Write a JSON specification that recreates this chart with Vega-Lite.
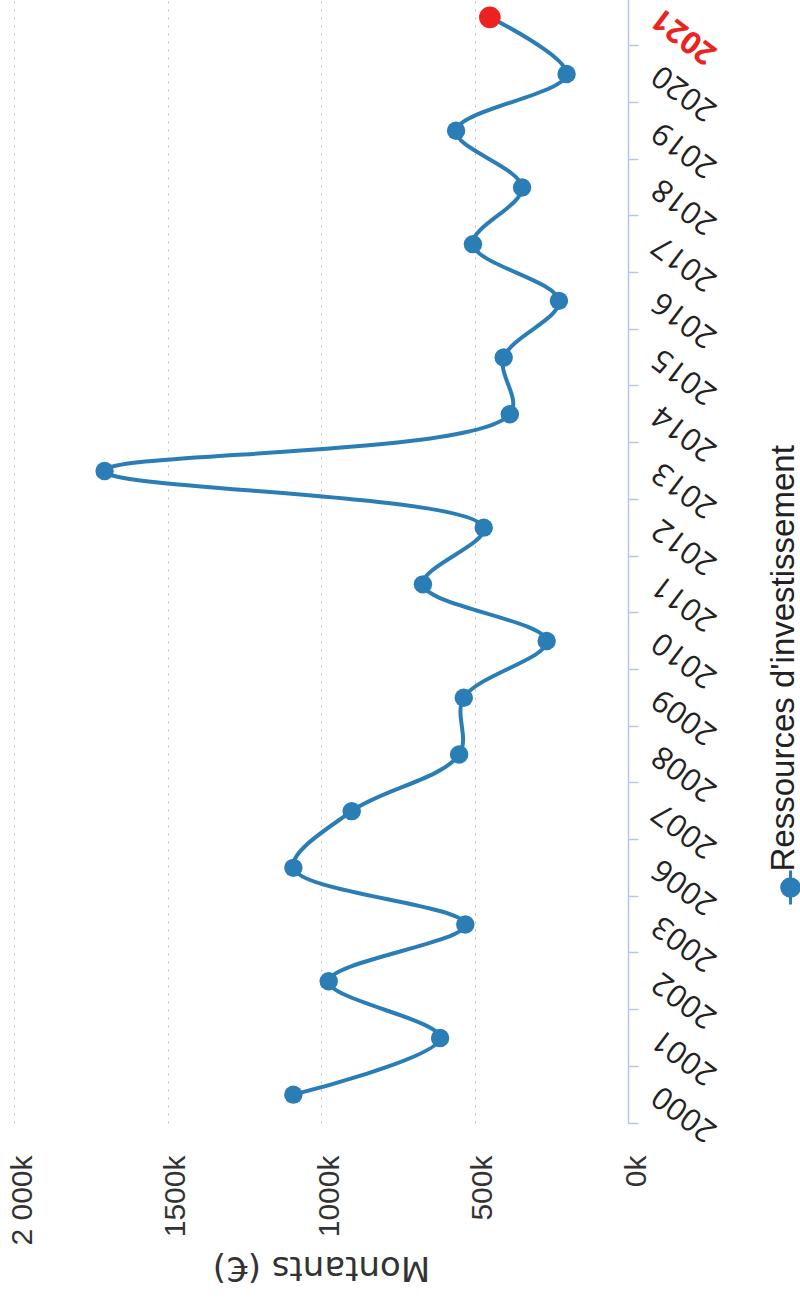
{
  "$schema": "https://vega.github.io/schema/vega-lite/v6.json",
  "width": 614,
  "height": 1134,
  "autosize": {"type": "none"},
  "padding": {"left": 14, "top": -11, "right": 172, "bottom": 180},
  "background": "white",
  "config": {"view": {"stroke": null}, "font": "Liberation Sans"},
  "data": {
    "values": [
      {"year": 2000, "value": 1090000, "serie": "Ressources d'investissement"},
      {"year": 2001, "value": 612000, "serie": "Ressources d'investissement"},
      {"year": 2002, "value": 975000, "serie": "Ressources d'investissement"},
      {"year": 2003, "value": 530000, "serie": "Ressources d'investissement"},
      {"year": 2006, "value": 1090000, "serie": "Ressources d'investissement"},
      {"year": 2007, "value": 900000, "serie": "Ressources d'investissement"},
      {"year": 2008, "value": 550000, "serie": "Ressources d'investissement"},
      {"year": 2009, "value": 535000, "serie": "Ressources d'investissement"},
      {"year": 2010, "value": 265000, "serie": "Ressources d'investissement"},
      {"year": 2011, "value": 668000, "serie": "Ressources d'investissement"},
      {"year": 2012, "value": 470000, "serie": "Ressources d'investissement"},
      {"year": 2013, "value": 1705000, "serie": "Ressources d'investissement"},
      {"year": 2014, "value": 385000, "serie": "Ressources d'investissement"},
      {"year": 2015, "value": 405000, "serie": "Ressources d'investissement"},
      {"year": 2016, "value": 225000, "serie": "Ressources d'investissement"},
      {"year": 2017, "value": 505000, "serie": "Ressources d'investissement"},
      {"year": 2018, "value": 345000, "serie": "Ressources d'investissement"},
      {"year": 2019, "value": 560000, "serie": "Ressources d'investissement"},
      {"year": 2020, "value": 200000, "serie": "Ressources d'investissement"},
      {"year": 2021, "value": 450000, "serie": "Ressources d'investissement"}
    ]
  },
  "encoding": {
    "y": {
      "field": "year",
      "type": "ordinal",
      "sort": "descending",
      "scale": {"type": "band", "paddingInner": 0, "paddingOuter": 0},
      "axis": {
        "orient": "right",
        "title": null,
        "grid": false,
        "bandPosition": 1,
        "domainColor": "#b6c9e1",
        "domainWidth": 1.5,
        "tickColor": "#b6c9e1",
        "tickWidth": 1.5,
        "tickSize": 10,
        "labelOffset": -3,
        "labelAngle": 217,
        "labelAlign": "right",
        "labelBaseline": "middle",
        "labelPadding": 18,
        "labelFont": "Open Sans",
        "labelFontSize": 31,
        "labelColor": {"condition": {"test": "datum.label == '2021'", "value": "#e8261f"}, "value": "#222222"},
        "labelFontWeight": {"condition": {"test": "datum.label == '2021'", "value": "bold"}, "value": "normal"}
      }
    },
    "x": {
      "field": "value",
      "type": "quantitative",
      "scale": {"domain": [0, 2000000], "reverse": true, "nice": false},
      "axis": {
        "orient": "bottom",
        "values": [0, 500000, 1000000, 1500000, 2000000],
        "labelExpr": "datum.value == 2000000 ? '2 000k' : format(datum.value / 1000, 'd') + 'k'",
        "domain": false,
        "ticks": false,
        "grid": true,
        "gridColor": "#bdbdbd",
        "gridDash": [2, 6],
        "gridWidth": 1,
        "labelAngle": 270,
        "labelAlign": "right",
        "labelBaseline": "middle",
        "labelOffset": 8,
        "labelPadding": 32,
        "labelFontSize": 30,
        "labelColor": "#333333",
        "title": "Montants (€)",
        "titleAngle": 180,
        "titleBaseline": "bottom",
        "titlePadding": 4,
        "titleFont": "DejaVu Sans",
        "titleFontSize": 34,
        "titleFontWeight": "normal",
        "titleColor": "#333333"
      }
    }
  },
  "layer": [
    {
      "mark": {"type": "line", "interpolate": "catmull-rom", "color": "#2a7db5", "strokeWidth": 4},
      "encoding": {"order": {"field": "year", "type": "quantitative"}}
    },
    {
      "mark": {"type": "point", "filled": true, "opacity": 1},
      "encoding": {
        "size": {"condition": {"test": "datum.year == 2021", "value": 470}, "value": 340},
        "color": {
          "condition": {"test": "datum.year == 2021", "value": "#ec2220"},
          "field": "serie",
          "type": "nominal",
          "scale": {"range": ["#2a7db5"]},
          "legend": {
            "orient": "none",
            "legendX": 760,
            "legendY": 882,
            "title": null,
            "symbolType": "M0,-1.55L0,1.55M-0.8,0A0.8,0.8,0,1,0,0.8,0A0.8,0.8,0,1,0,-0.8,0",
            "symbolSize": 484,
            "symbolStrokeWidth": 3,
            "symbolStrokeColor": "#2a7db5",
            "symbolFillColor": "#2a7db5",
            "labelFontSize": 33,
            "labelColor": "#222222",
            "labelLimit": 0,
            "encoding": {
              "labels": {"angle": {"value": 270}, "align": {"value": "left"}, "baseline": {"value": "middle"}, "dx": {"value": 16}, "dy": {"value": -27}}
            }
          }
        }
      }
    }
  ]
}
